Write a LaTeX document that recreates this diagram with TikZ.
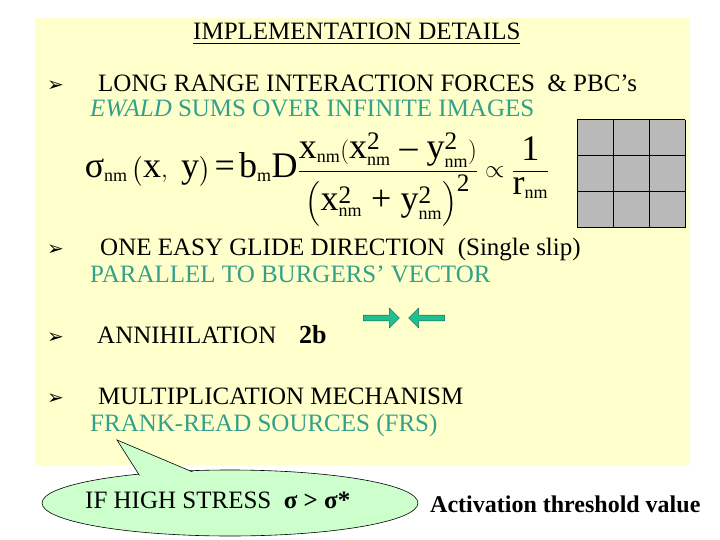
\documentclass[tikz,border=0pt]{standalone}
\usepackage{amsmath}
\usepackage{fontspec}
\setmainfont{Liberation Serif}
\newfontfamily\dejavu{DejaVu Sans}
\usetikzlibrary{shapes.arrows}
\definecolor{bg}{HTML}{FFFFCC}
\definecolor{tealtxt}{HTML}{33A08C}
\definecolor{callfill}{HTML}{CCFFCC}
\definecolor{arrfill}{HTML}{1FBF8F}
\newcommand{\nmsub}{{\scriptscriptstyle\text{nm}}}
\newcommand{\tx}[1]{\text{#1}}
\begin{document}
\begin{tikzpicture}[x=1pt,y=-1pt,
  txt/.style={anchor=base west,inner sep=0pt,font=\fontsize{25}{30}\selectfont},
  bul/.style={anchor=base west,inner sep=0pt,font=\dejavu\fontsize{20}{24}\selectfont}]
\useasboundingbox (0,0) rectangle (720,540);
\fill[white] (0,0) rectangle (720,540);
\fill[bg] (35,18) rectangle (690,465);
\node[txt] (title) at (193,40) {\underline{IMPLEMENTATION DETAILS}};
\node[bul] (b1) at (47,92) {➢};
\node[txt] (l1) at (98,92) {LONG RANGE INTERACTION FORCES \ \& PBC’s};
\node[txt,text=tealtxt] (l2) at (90,117) {\textit{EWALD} SUMS OVER INFINITE IMAGES};
\node[anchor=center,inner sep=0pt,font=\fontsize{36}{42}\selectfont] (eq) at (317,180)
 {$\tx{σ}_\nmsub\left(\tx{x},\tx{ y}\right)\tx{=}\,\tx{b}_{\scriptscriptstyle\text{m}}\tx{D}\dfrac{\tx{x}_\nmsub(\tx{x}_\nmsub^{\tx{2}}\tx{ – }\tx{y}_\nmsub^{\tx{2}})}{\left(\tx{x}_\nmsub^{\tx{2}}\tx{ + }\tx{y}_\nmsub^{\tx{2}}\right)^{\tx{2}}}\propto\dfrac{\tx{1}}{\tx{r}_\nmsub}$};
\fill[gray!55] (577,120) rectangle (685,228);
\foreach \k in {0,1,2,3}{
  \draw[black,line width=1pt] (577+36*\k,120) -- (577+36*\k,228);
  \draw[black,line width=1pt] (577,120+36*\k) -- (685,120+36*\k);}
\node[bul] (b2) at (47,255) {➢};
\node[txt] (l3) at (100,255) {ONE EASY GLIDE DIRECTION \ (Single slip)};
\node[txt,text=tealtxt] (l4) at (90,282) {PARALLEL TO BURGERS’ VECTOR};
\node[bul] (b3) at (47,343) {➢};
\node[txt] (l5) at (97,343) {ANNIHILATION};
\node[txt,font=\fontsize{26}{30}\selectfont\bfseries] (twob) at (299,343) {2b};
\node[single arrow,draw=tealtxt!60!black,fill=arrfill,minimum height=36pt,minimum width=20pt,single arrow head extend=3pt,inner sep=1pt] (ar) at (380,318) {};
\node[single arrow,shape border rotate=180,draw=tealtxt!60!black,fill=arrfill,minimum height=36pt,minimum width=20pt,single arrow head extend=3pt,inner sep=1pt] (al) at (428,318) {};
\node[bul] (b4) at (47,404) {➢};
\node[txt] (l6) at (98,404) {MULTIPLICATION MECHANISM};
\node[txt,text=tealtxt] (l7) at (90,431) {FRANK-READ SOURCES (FRS)};
% callout
\draw[fill=callfill,line width=0.6pt] (230,503) ellipse [x radius=188,y radius=33];
\fill[callfill] (117,440) -- (150,492) -- (240,492) -- cycle;
\draw[line width=0.6pt] (150,492) -- (117,440) -- (240,492);
\fill[callfill] (230,503) ellipse [x radius=186,y radius=31.5];
\coordinate (tip) at (117,440);
\node[txt] (call) at (85,508) {IF HIGH STRESS \ \textbf{σ > σ*}};
\node[txt,font=\fontsize{24}{28}\selectfont\bfseries] (act) at (430,512) {Activation threshold value};
\end{tikzpicture}
\end{document}
